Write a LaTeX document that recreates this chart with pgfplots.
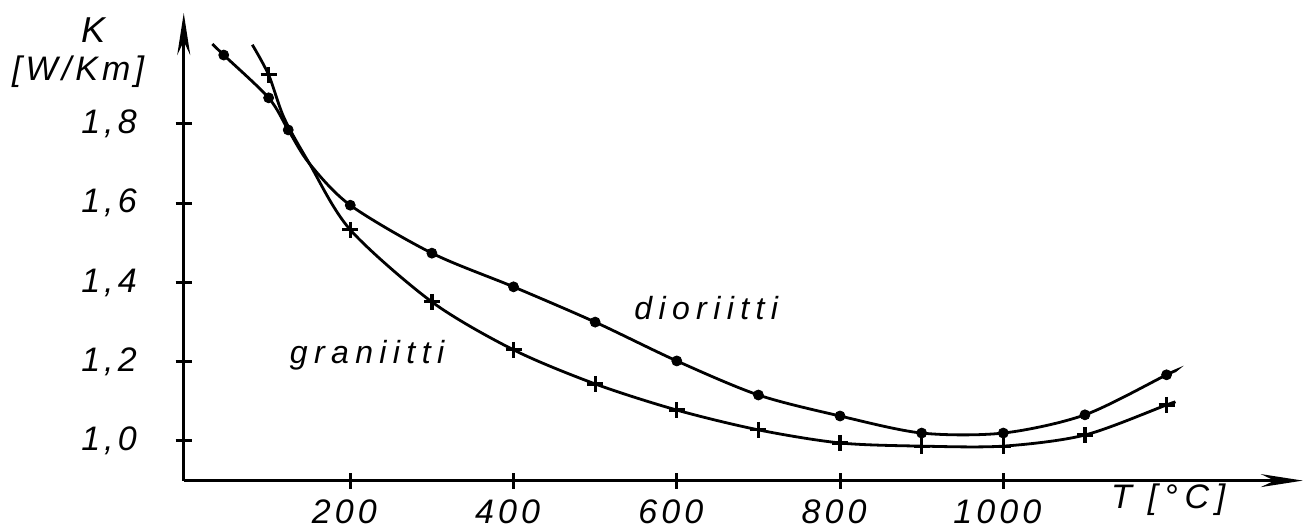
\documentclass[border=0pt]{standalone}
\usepackage{fontspec}
\setmainfont{Liberation Sans}
\newfontfamily\lab[LetterSpace=20]{Liberation Sans}
\newfontfamily\tlab[LetterSpace=12]{Liberation Sans}
\usepackage{pgfplots}
\pgfplotsset{compat=1.18}
\usetikzlibrary{arrows.meta}
\begin{document}
\begin{tikzpicture}
\begin{axis}[
  x=0.40815pt, y=198.125pt,
  xmin=-4, xmax=1367, ymin=0.9, ymax=2.08,
  axis x line=bottom, axis y line=left,
  x axis line style={line width=1.3pt, -{Stealth[length=21pt,width=6.5pt]}},
  y axis line style={line width=1.4pt, -{Stealth[length=21pt,width=6.5pt]}},
  xtick={200,400,600,800,1000}, xticklabels={200,400,600,800,1000},
  ytick={1,1.2,1.4,1.6,1.8}, yticklabels={{1,0},{1,2},{1,4},{1,6},{1,8}},
  tick align=center, major tick length=8pt,
  tick style={line width=1.5pt, black},
  xticklabel style={font=\tlab\itshape\fontsize{17}{17}\selectfont, xshift=-3pt, yshift=-2pt},
  yticklabel style={font=\tlab\itshape\fontsize{17}{17}\selectfont, xshift=-16pt},
  clip=false,
]
\path (axis cs:-229.1,2.1129) rectangle (axis cs:1379.4,0.7931);
% dioriitti
\addplot[black, line width=1.4pt, smooth, tension=0.5] coordinates {
 (31,2.002) (45,1.974) (100,1.866) (124,1.785) (150,1.70) (200,1.595)
 (300,1.474) (400,1.389) (500,1.300) (600,1.202) (700,1.116) (800,1.063)
 (900,1.020) (1000,1.020) (1100,1.066) (1200,1.167) (1210,1.176)};
\addplot[only marks, mark=*, mark size=2.5pt, black] coordinates {
 (45,1.974) (100,1.866) (124,1.785) (200,1.595)
 (300,1.474) (400,1.389) (500,1.300) (600,1.202) (700,1.116) (800,1.063)
 (900,1.020) (1000,1.020) (1100,1.066) (1200,1.167)};
% graniitti
\addplot[black, line width=1.4pt, smooth, tension=0.5] coordinates {
 (80,2.000) (100,1.924) (119,1.815) (150,1.700) (200,1.533)
 (300,1.351) (400,1.230) (500,1.144) (600,1.078) (700,1.028) (800,0.995)
 (900,0.987) (1000,0.987) (1100,1.015) (1200,1.091) (1210,1.098)};
\addplot[only marks, mark=+, mark size=4pt, line width=1.6pt, black] coordinates {
 (100,1.924) (200,1.533)
 (300,1.351) (400,1.230) (500,1.144) (600,1.078) (700,1.028) (800,0.995)
 (900,0.987) (1000,0.987) (1100,1.015) (1200,1.091)};
\node[font=\lab\itshape\fontsize{18}{18}\selectfont] at (axis cs:-115,2.037) {K};
\node[font=\tlab\itshape\fontsize{17}{17}\selectfont] at (axis cs:-133.5,1.931) {[W/Km]};
\node[font=\lab\itshape\fontsize{16}{16}\selectfont] at (axis cs:636,1.336) {dioriitti};
\node[font=\lab\itshape\fontsize{16}{16}\selectfont] at (axis cs:220.5,1.217) {graniitti};
\node[font=\lab\itshape\fontsize{17}{17}\selectfont] at (axis cs:1202,0.851) {T\hspace{8pt}[°C]};
\end{axis}
\end{tikzpicture}
\end{document}
